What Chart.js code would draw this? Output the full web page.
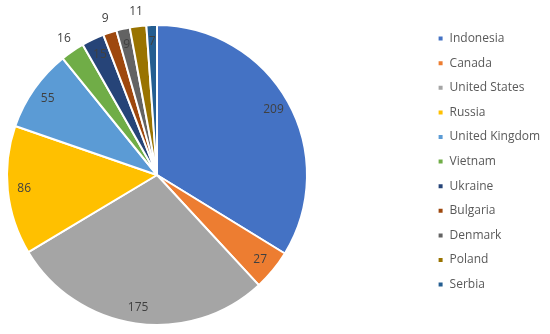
<!DOCTYPE html>
<html lang="en">
<head>
    <meta charset="UTF-8">
    <title>Pie chart by country</title>
    <script src="https://cdn.jsdelivr.net/npm/chart.js"></script>
    <style>
        body { margin: 0; background: #ffffff; }
        .chart-container { position: relative; width: 550px; height: 334px; }
    </style>
</head>
<body>
    <div class="chart-container">
        <canvas id="pieChart"></canvas>
    </div>

    <script>
        // --- Data ---
        const countries = ['Indonesia', 'Canada', 'United States', 'Russia', 'United Kingdom',
            'Vietnam', 'Ukraine', 'Bulgaria', 'Denmark', 'Poland', 'Serbia'];
        const values = [209, 27, 175, 86, 55, 16, 15, 9, 9, 11, 7];
        const colors = ['#4472C4', '#ED7D31', '#A5A5A5', '#FFC000', '#5B9BD5',
            '#70AD47', '#264478', '#9E480E', '#636363', '#997300', '#255E91'];
        // labels drawn outside the pie (small slices)
        const outsideLabels = ['Vietnam', 'Bulgaria', 'Poland'];

        // value labels on the slices
        const sliceLabels = {
            id: 'sliceLabels',
            afterDatasetsDraw(chart) {
                const ctx = chart.ctx;
                const meta = chart.getDatasetMeta(0);
                ctx.save();
                ctx.font = '12px "Open Sans", sans-serif';
                ctx.fillStyle = '#404040';
                ctx.textAlign = 'center';
                ctx.textBaseline = 'middle';
                meta.data.forEach((arc, i) => {
                    const p = arc.getProps(['x', 'y', 'startAngle', 'endAngle', 'outerRadius'], true);
                    const mid = (p.startAngle + p.endAngle) / 2;
                    const r = outsideLabels.includes(countries[i]) ? p.outerRadius * 1.1 : p.outerRadius * 0.89;
                    ctx.fillText(values[i], p.x + Math.cos(mid) * r, p.y + Math.sin(mid) * r);
                });
                ctx.restore();
            }
        };

        // legend takes the right part of the canvas, items sit near the right edge
        const legendPlace = {
            id: 'legendPlace',
            beforeLayout(chart) {
                const lg = chart.legend;
                if (lg && !lg._wrapped) {
                    const fit = lg.fit;
                    lg.fit = function () { fit.call(this); this.width = 240; };
                    lg._wrapped = true;
                }
            },
            afterLayout(chart) {
                chart.legend.left = 425;
                chart.legend.top = 20;
            }
        };

        const ctx = document.getElementById('pieChart').getContext('2d');
        new Chart(ctx, {
            type: 'pie',
            data: {
                labels: countries,
                datasets: [{
                    data: values,
                    backgroundColor: colors,
                    borderColor: '#ffffff',
                    borderWidth: 2,
                    hoverOffset: 0
                }]
            },
            options: {
                responsive: true,
                maintainAspectRatio: false,
                animation: false,
                layout: { padding: { left: 4, top: 24, bottom: 8, right: 0 } },
                plugins: {
                    legend: {
                        position: 'right',
                        align: 'start',
                        labels: {
                            boxWidth: 6,
                            boxHeight: 6,
                            padding: 12.6,
                            color: '#595959',
                            font: { size: 12, family: '"Open Sans", sans-serif' }
                        }
                    },
                    tooltip: { enabled: false }
                }
            },
            plugins: [sliceLabels, legendPlace]
        });
    </script>
</body>
</html>
